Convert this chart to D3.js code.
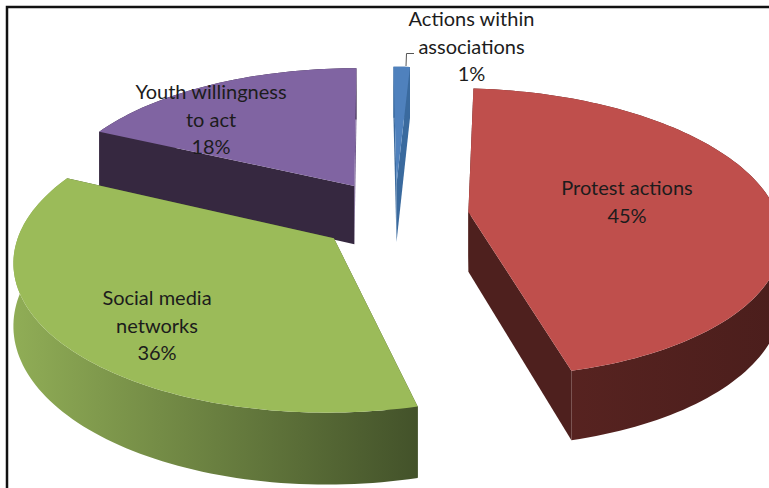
<!DOCTYPE html>
<html>
<head>
<meta charset="utf-8">
<script src="https://cdn.jsdelivr.net/npm/d3@7"></script>
<style>
  html, body { margin: 0; padding: 0; background: #fff; }
  svg { display: block; }
  text { font-family: Lato, "Open Sans", sans-serif; font-size: 20px; fill: #1c1c1c; text-anchor: middle; }
</style>
</head>
<body>
<div id="chart"></div>
<script>
// Shares of youth participation, in percent, clockwise from twelve o'clock.
const categories = ["Actions within associations", "Protest actions", "Social media networks", "Youth willingness to act"];
const shares = [1, 45, 36, 18];
const labelLines = [
  ["Actions within", "associations", "1%"],
  ["Protest actions", "45%"],
  ["Social media", "networks", "36%"],
  ["Youth willingness", "to act", "18%"]
];
const topColors = ["#4f81bd", "#bf4f4c", "#9bbb59", "#8064a2"];
const startCutColors = ["#3a6a9e", "#4e201e", "#43532a", "#362840"];
const endCutColors = ["#3a6a9e", "#4e201e", "#43532a", "#6b5389"];
const wallColors = [
  ["#3a6a9e", "#3a6a9e"],
  ["#5c2522", "#4b1e1c"],
  ["#90ad56", "#43522a"],
  ["#362840", "#362840"]
];
const explodeBy = [70, 74, 78, 77];

const width = 769, height = 488;
const radius = 309, depth = 60;
const cx = 395, cy = 215, eye = 2164, tilt = 0.46, shear = 0.012;
const rotation = 0.2 * Math.PI / 180;

// Perspective projection of a point on the disc; z runs downward from the top face.
function project(x, y, z) {
  const s = eye / (eye + y);
  return [cx + x * s - shear * y, cy - tilt * y * s + z * s];
}

const svg = d3.select("#chart").append("svg").attr("width", width).attr("height", height);
const defs = svg.append("defs");
const line = d3.line();
const pie = d3.pie().sort(null).value(d => d).startAngle(rotation).endAngle(rotation + 2 * Math.PI);
const arcs = pie(shares);

function slicePoints(a, explode) {
  const mid = (a.startAngle + a.endAngle) / 2;
  const ox = explode * Math.sin(mid), oy = explode * Math.cos(mid);
  const steps = Math.max(2, Math.ceil((a.endAngle - a.startAngle) * 40));
  const rim = d3.range(steps + 1).map(i => {
    const t = a.startAngle + (a.endAngle - a.startAngle) * i / steps;
    return [ox + radius * Math.sin(t), oy + radius * Math.cos(t)];
  });
  return { hub: [ox, oy], rim };
}

const ribbon = (pts) => line(
  pts.map(p => project(p[0], p[1], 0)).concat(pts.slice().reverse().map(p => project(p[0], p[1], depth)))
) + "Z";

// Far slices first, so nearer ones paint over them.
const drawOrder = [0, 3, 2, 1];
drawOrder.forEach(i => {
  const { hub, rim } = slicePoints(arcs[i], explodeBy[i]);
  const g = svg.append("g").attr("class", "slice").attr("data-name", categories[i]);
  const start = rim[0], end = rim[rim.length - 1];

  const gradId = "wall-" + i;
  const xs = rim.map(p => project(p[0], p[1], 0)[0]);
  const grad = defs.append("linearGradient").attr("id", gradId)
    .attr("gradientUnits", "userSpaceOnUse")
    .attr("x1", d3.min(xs)).attr("x2", d3.max(xs)).attr("y1", 0).attr("y2", 0);
  grad.append("stop").attr("offset", 0).attr("stop-color", wallColors[i][0]);
  grad.append("stop").attr("offset", 1).attr("stop-color", wallColors[i][1]);

  g.append("path").attr("d", ribbon([hub, start])).attr("fill", startCutColors[i]);
  g.append("path").attr("d", ribbon([hub, end])).attr("fill", endCutColors[i]);
  g.append("path").attr("d", ribbon(rim)).attr("fill", `url(#${gradId})`);
  g.append("path")
    .attr("d", line([hub].concat(rim).map(p => project(p[0], p[1], 0))) + "Z")
    .attr("fill", topColors[i]);
});

// Leader from the smallest slice to its label.
svg.append("path")
  .attr("d", line([[406, 66], [406.5, 53.5], [414, 53.5]]))
  .attr("fill", "none").attr("stroke", "#555").attr("stroke-width", 1);

// Label anchors: centre x and first baseline for each category.
const labelAnchors = [[471.5, 26], [627, 195], [157, 305], [211, 99]];
const lineStep = 27.5;
labelLines.forEach((lines, i) => {
  const t = svg.append("text");
  lines.forEach((s, j) => {
    t.append("tspan").attr("x", labelAnchors[i][0]).attr("y", labelAnchors[i][1] + j * lineStep).text(s);
  });
});

// Frame along the top and left edges.
svg.append("path")
  .attr("d", line([[7, height], [7, 7], [width, 7]]))
  .attr("fill", "none").attr("stroke", "#111").attr("stroke-width", 2.5);
</script>
</body>
</html>
